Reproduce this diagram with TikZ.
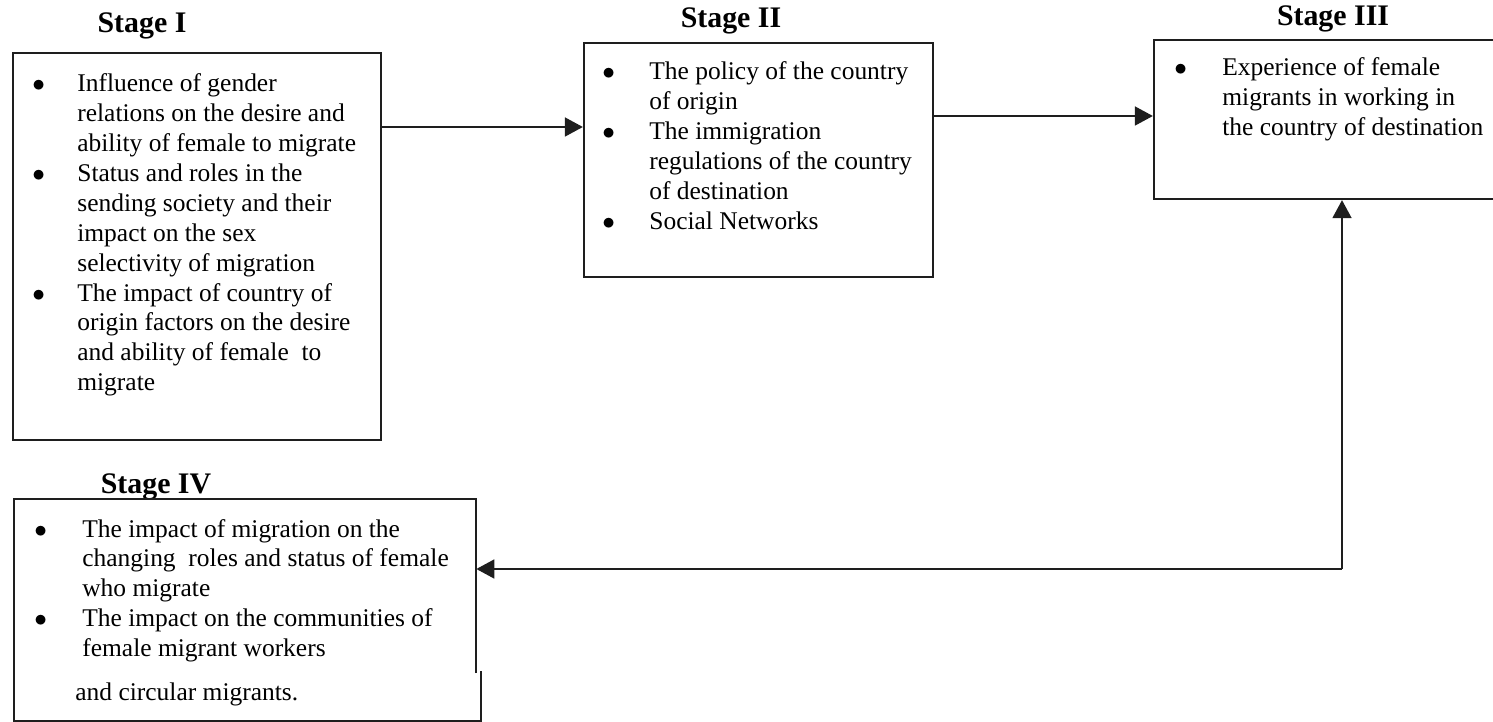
\documentclass[tikz,border=0pt]{standalone}
\usepackage{fontspec}
\setmainfont{Liberation Serif}
\usetikzlibrary{arrows.meta}
\usetikzlibrary{fit}
\definecolor{inkgrey}{RGB}{30,30,30}
\tikzset{
      stagebox/.style={draw=inkgrey, line width=1.3pt, inner sep=0pt},
      stagetitle/.style={anchor=base, inner sep=0pt, font=\fontsize{17}{20}\selectfont\bfseries},
      items/.style={anchor=base west, inner sep=0pt, font=\fontsize{14.5}{17}\selectfont},
      flow/.style={draw=inkgrey, line width=1pt, -{Triangle[length=0.36cm, width=0.38cm]}},
}

\begin{document}
\begin{tikzpicture}[x=0.02cm, y=-0.02cm]

        \useasboundingbox (0,0) rectangle (1493,722);

        % stage titles
        \node[stagetitle] (title1) at (142,33) {Stage I};
        \node[stagetitle] (title2) at (731,28) {Stage II};
        \node[stagetitle] (title3) at (1333,26) {Stage III};
        \node[stagetitle] (title4) at (156,493) {Stage IV};

        % boxes
        \node[stagebox, fit={(13,53) (381,440)}] (s1) {};
        \node[stagebox, fit={(584,43) (933,277)}] (s2) {};
        \node[stagebox, fit={(1154,40) (1510,199)}] (s3) {};
        \node[inner sep=0pt, fit={(14,499) (476,721)}] (s4) {};
        \draw[stagebox] (476,673) -- (476,499) -- (14,499) -- (14,721) -- (481,721) -- (481,671);

        % box contents
        \node[items] (list1) at (32,92) {\begin{tabular}[t]{@{}p{0.9cm}@{}l@{}}
            $\bullet$ & Influence of gender\\
            & relations on the desire and\\
            & ability of female to migrate\\
            $\bullet$ & Status and roles in the\\
            & sending society and their\\
            & impact on the sex\\
            & selectivity of migration\\
            $\bullet$ & The impact of country of\\
            & origin factors on the desire\\
            & and ability of female\ \ to\\
            & migrate
        \end{tabular}};

        \node[items] (list2) at (602,80) {\begin{tabular}[t]{@{}p{0.94cm}@{}l@{}}
            $\bullet$ & The policy of the country\\
            & of origin\\
            $\bullet$ & The immigration\\
            & regulations of the country\\
            & of destination\\
            $\bullet$ & Social Networks
        \end{tabular}};

        \node[items] (list3) at (1174,76) {\begin{tabular}[t]{@{}p{0.96cm}@{}l@{}}
            $\bullet$ & Experience of female\\
            & migrants in working in\\
            & the country of destination
        \end{tabular}};

        \node[items] (list4) at (34,537) {\begin{tabular}[t]{@{}p{0.96cm}@{}l@{}}
            $\bullet$ & The impact of migration on the\\
            & changing\ \ roles and status of female\\
            & who migrate\\
            $\bullet$ & The impact on the communities of\\
            & female migrant workers
        \end{tabular}};
        \node[items] (list4b) at (75,700) {and circular migrants.};

        % arrows
        \coordinate (lvl12) at (0,127);
        \coordinate (lvl23) at (0,116);
        \coordinate (turn) at (1342,569);
        \draw[flow] (s1.east |- lvl12) -- (s2.west |- lvl12);
        \draw[flow] (s2.east |- lvl23) -- (s3.west |- lvl23);
        \draw[flow] (turn) -- (turn |- s3.south);
        \draw[flow] (turn) -- (s4.east |- turn);

    \end{tikzpicture}
\end{document}
